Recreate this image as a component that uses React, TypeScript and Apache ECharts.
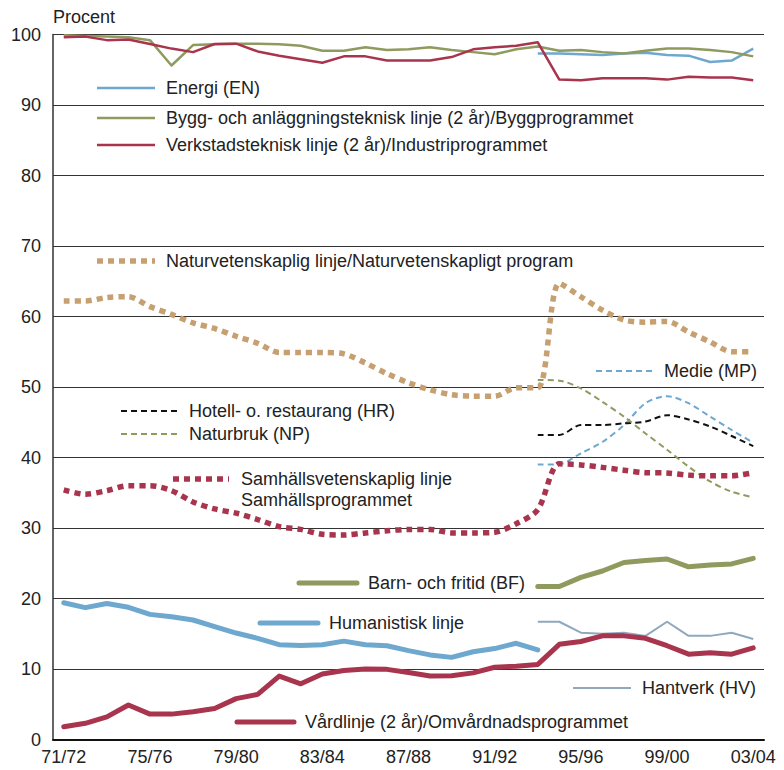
import React, { useEffect, useRef } from "react";
import * as echarts from "echarts";

const categories = [
  "71/72", "72/73", "73/74", "74/75", "75/76", "76/77", "77/78", "78/79", "79/80", "80/81",
  "81/82", "82/83", "83/84", "84/85", "85/86", "86/87", "87/88", "88/89", "89/90", "90/91",
  "91/92", "92/93", "93/94", "94/95", "95/96", "96/97", "97/98", "98/99", "99/00", "00/01",
  "01/02", "02/03", "03/04",
];

const N22 = [null, null, null, null, null, null, null, null, null, null, null, null, null, null, null, null, null, null, null, null, null, null];
const N10 = [null, null, null, null, null, null, null, null, null, null];

const energi = [...N22, 97.3, 97.3, 97.2, 97.1, 97.3, 97.4, 97.1, 97.0, 96.1, 96.3, 98.0];
const bygg = [99.9, 99.8, 99.7, 99.6, 99.2, 95.6, 98.5, 98.6, 98.7, 98.7, 98.6, 98.4, 97.7, 97.7, 98.2, 97.8, 97.9, 98.2, 97.8, 97.5, 97.2, 97.9, 98.3, 97.7, 97.8, 97.5, 97.3, 97.7, 98.0, 98.0, 97.8, 97.5, 96.9];
const verkstad = [99.6, 99.7, 99.2, 99.3, 98.65, 98.0, 97.5, 98.65, 98.7, 97.6, 97.0, 96.5, 96.0, 96.9, 96.9, 96.3, 96.3, 96.3, 96.8, 97.9, 98.2, 98.4, 98.9, 93.6, 93.5, 93.8, 93.8, 93.8, 93.6, 94.0, 93.9, 93.9, 93.5];
const naturvet = [62.2, 62.2, 62.7, 62.8, 61.4, 60.3, 59.1, 58.3, 57.2, 56.2, 54.9, 54.9, 54.9, 54.7, 53.4, 51.9, 50.6, 49.6, 48.9, 48.7, 48.7, 49.9, 49.9, 64.7, 62.8, 60.9, 59.5, 59.2, 59.3, 57.8, 56.4, 55.0, 55.0];
const medie = [...N22, 39.0, 39.05, 40.6, 42.2, 44.6, 47.7, 48.7, 47.7, 45.8, 43.9, 42.1];
const hotell = [...N22, 43.2, 43.2, 44.6, 44.6, 44.85, 45.1, 46.0, 45.4, 44.4, 43.05, 41.6];
const naturbruk = [...N22, 51.0, 50.9, 49.8, 47.9, 45.8, 43.4, 41.1, 38.7, 36.6, 35.15, 34.35];
const samhall = [35.4, 34.8, 35.3, 36.0, 36.0, 35.3, 33.7, 32.7, 32.1, 31.2, 30.2, 29.8, 29.1, 29.0, 29.3, 29.6, 29.8, 29.8, 29.3, 29.3, 29.4, 30.6, 32.6, 39.1, 38.95, 38.6, 38.2, 37.85, 37.8, 37.5, 37.4, 37.4, 37.85];
const barnFritid = [...N22, 21.7, 21.7, 23.0, 23.9, 25.1, 25.4, 25.6, 24.5, 24.75, 24.9, 25.7];
const humanistisk = [19.4, 18.7, 19.3, 18.75, 17.75, 17.4, 16.95, 16.0, 15.1, 14.35, 13.45, 13.35, 13.45, 13.95, 13.45, 13.3, 12.6, 12.0, 11.65, 12.45, 12.9, 13.65, 12.7, ...N10];
const hantverk = [...N22, 16.7, 16.7, 15.15, 15.0, 15.15, 14.7, 16.7, 14.7, 14.7, 15.15, 14.25];
const vard = [1.8, 2.3, 3.2, 4.9, 3.6, 3.6, 3.95, 4.4, 5.8, 6.4, 9.0, 7.9, 9.3, 9.8, 10.0, 9.95, 9.5, 9.0, 9.05, 9.45, 10.25, 10.4, 10.65, 13.5, 13.9, 14.7, 14.7, 14.35, 13.3, 12.1, 12.3, 12.1, 13.0];

const yTicks = [0, 10, 20, 30, 40, 50, 60, 70, 80, 90, 100];

const BLUE = "#6ea8cf";
const OLIVE = "#8f9a5f";
const CRIMSON = "#a9344d";
const TAN = "#c6a070";
const GREYBLUE = "#8ea8bd";
const FONT = "Liberation Sans, Arial, sans-serif";
const FS = 18;

type Def = {
  name: string;
  data: (number | null)[];
  color: string;
  width: number;
  dash?: number[];
  smooth?: number;
  cap?: string;
  legend: { x1: number; x2: number; y: number; tx: number; lines: string[] };
};

const defs: Def[] = [
  { name: "Energi (EN)", data: energi, color: BLUE, width: 2.5, legend: { x1: 97, x2: 155, y: 88, tx: 166, lines: ["Energi (EN)"] } },
  { name: "Bygg", data: bygg, color: OLIVE, width: 2.5, legend: { x1: 97, x2: 155, y: 118, tx: 166, lines: ["Bygg- och anläggningsteknisk linje (2 år)/Byggprogrammet"] } },
  { name: "Verkstad", data: verkstad, color: CRIMSON, width: 2.5, legend: { x1: 97, x2: 155, y: 145, tx: 166, lines: ["Verkstadsteknisk linje (2 år)/Industriprogrammet"] } },
  { name: "Naturvet", data: naturvet, color: TAN, width: 5.5, dash: [6, 5], smooth: 0.3, cap: "butt", legend: { x1: 97, x2: 155, y: 261, tx: 166, lines: ["Naturvetenskaplig linje/Naturvetenskapligt program"] } },
  { name: "Medie (MP)", data: medie, color: BLUE, width: 2, dash: [6, 4], smooth: 0.3, cap: "butt", legend: { x1: 596, x2: 653, y: 371, tx: 664, lines: ["Medie (MP)"] } },
  { name: "Hotell", data: hotell, color: "#111111", width: 2, dash: [6, 4], smooth: 0.3, cap: "butt", legend: { x1: 121, x2: 178, y: 411, tx: 189, lines: ["Hotell- o. restaurang (HR)"] } },
  { name: "Naturbruk (NP)", data: naturbruk, color: OLIVE, width: 2, dash: [6, 4], smooth: 0.3, cap: "butt", legend: { x1: 121, x2: 178, y: 434, tx: 189, lines: ["Naturbruk (NP)"] } },
  { name: "Samhall", data: samhall, color: CRIMSON, width: 5.5, dash: [6, 5], smooth: 0.3, cap: "butt", legend: { x1: 173, x2: 229, y: 479, tx: 241, lines: ["Samhällsvetenskaplig linje", "Samhällsprogrammet"] } },
  { name: "Barn- och fritid (BF)", data: barnFritid, color: OLIVE, width: 5, cap: "round", legend: { x1: 299, x2: 357, y: 583, tx: 368, lines: ["Barn- och fritid (BF)"] } },
  { name: "Humanistisk linje", data: humanistisk, color: BLUE, width: 5, cap: "round", legend: { x1: 260, x2: 318, y: 623, tx: 329, lines: ["Humanistisk linje"] } },
  { name: "Hantverk (HV)", data: hantverk, color: GREYBLUE, width: 2, legend: { x1: 573, x2: 631, y: 688, tx: 642, lines: ["Hantverk (HV)"] } },
  { name: "Vard", data: vard, color: CRIMSON, width: 5, cap: "round", legend: { x1: 237, x2: 294, y: 722, tx: 305, lines: ["Vårdlinje (2 år)/Omvårdnadsprogrammet"] } },
];

export default function App() {
  const ref = useRef<HTMLDivElement>(null);
  useEffect(() => {
    if (!ref.current) return;
    const chart = echarts.init(ref.current, undefined, { renderer: "svg" });
    const graphics: any[] = [];
    defs.forEach((d) => {
      const L = d.legend;
      graphics.push({
        type: "line",
        shape: { x1: L.x1, y1: L.y, x2: L.x2, y2: L.y },
        style: { stroke: d.color, lineWidth: d.width, lineDash: d.dash || null, lineCap: d.cap || "butt" },
        z: 10,
      });
      L.lines.forEach((t, k) => {
        graphics.push({
          type: "text",
          x: L.tx,
          y: L.y + k * 21,
          style: { text: t, fill: "#222", font: `${FS}px ${FONT}`, verticalAlign: "middle", textAlign: "left" },
          z: 10,
        });
      });
    });
    graphics.push({
      type: "text",
      x: 53,
      y: 17,
      style: { text: "Procent", fill: "#222", font: `${FS}px ${FONT}`, verticalAlign: "middle", textAlign: "left" },
    });

    chart.setOption({
      animation: false,
      backgroundColor: "#ffffff",
      grid: { left: 53, right: 20, top: 34.5, bottom: 30.5, containLabel: false },
      xAxis: {
        type: "category",
        data: categories,
        boundaryGap: true,
        axisLine: { show: true, lineStyle: { color: "#111", width: 2 } },
        axisTick: { show: false },
        axisLabel: { interval: 3, color: "#222", fontSize: FS, fontFamily: FONT, margin: 8 },
        splitLine: { show: false },
      },
      yAxis: {
        type: "value",
        min: 0,
        max: 100,
        interval: 10,
        axisLine: { show: true, lineStyle: { color: "#333", width: 1.5 } },
        axisTick: { show: false },
        axisLabel: { color: "#222", fontSize: FS, fontFamily: FONT, margin: 12, formatter: (v: number) => (yTicks.includes(v) ? String(v) : "") },
        splitLine: { show: true, lineStyle: { color: "#333", width: 1 } },
      },
      series: defs.map((d) => ({
        name: d.name,
        type: "line",
        data: d.data,
        showSymbol: false,
        symbol: "none",
        smooth: d.smooth || false,
        connectNulls: false,
        lineStyle: { color: d.color, width: d.width, type: d.dash || "solid", cap: d.cap || "butt", join: "round" },
        emphasis: { disabled: true },
      })),
      graphic: graphics,
    });
    return () => chart.dispose();
  }, []);
  return <div ref={ref} style={{ position: "absolute", left: 0, top: 0, width: 784, height: 770 }} />;
}
